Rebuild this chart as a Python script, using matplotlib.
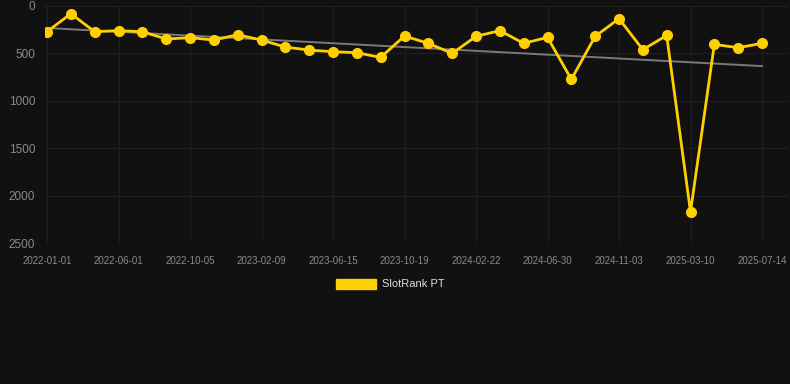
import matplotlib
matplotlib.use("Agg")
import matplotlib.pyplot as plt
from matplotlib.patches import Patch
import numpy as np

plt.rcParams['font.family'] = ['Liberation Sans', 'DejaVu Sans']

tick_labels = ["2022-01-01", "2022-06-01", "2022-10-05", "2023-02-09", "2023-06-15",
               "2023-10-19", "2024-02-22", "2024-06-30", "2024-11-03", "2025-03-10",
               "2025-07-14"]
ranks = [271, 81, 271, 260, 271, 348, 334, 359, 303, 359,
         433, 465, 482, 493, 542, 317, 394, 500, 320, 260,
         394, 331, 774, 320, 134, 461, 310, 2172, 405, 440, 394]
trend_ends = [232, 634]
series_name = "SlotRank PT"

BG = "#111111"
fig = plt.figure(figsize=(7.9, 3.84), dpi=100, facecolor=BG)
W, H = 790, 384
left, right, top, bottom = 45, 788, 6, 243
ax = fig.add_axes([left / W, 1 - bottom / H, (right - left) / W, (bottom - top) / H])
ax.set_facecolor(BG)

x = np.arange(len(ranks))
step = 3
px_per = (762 - 47) / (len(ranks) - 1)
ax.set_xlim(-(47 - left) / px_per, (len(ranks) - 1) + (right - 762) / px_per)
ax.set_ylim(2500, 0)

ax.plot([x[0], x[-1]], trend_ends, color="#7a7a7a", lw=1.4, zorder=2)
ax.plot(x, ranks, color="#FFD000", lw=2.0, marker="o", markersize=7,
        markerfacecolor="#FFD000", markeredgecolor="#FFD000", zorder=3)

ax.set_xticks(x[::step])
ax.set_xticklabels(tick_labels)
ax.set_yticks([0, 500, 1000, 1500, 2000, 2500])
ax.grid(True, color="#1f1f1f", lw=0.8)
ax.tick_params(axis="x", colors="#8a8a8a", labelsize=7, length=0, pad=9)
ax.tick_params(axis="y", colors="#8a8a8a", labelsize=8.5, length=0, pad=7)
for s in ax.spines.values():
    s.set_visible(False)
ax.axhline(2500, color="#2c2c2c", lw=0.8)

leg = fig.legend(handles=[Patch(facecolor="#FFD000", edgecolor="#FFD000", label=series_name)],
                 loc="center", bbox_to_anchor=(0.494, 1 - 284 / H), frameon=False,
                 fontsize=8, handlelength=3.6, handleheight=1.0, handletextpad=0.6)
for t in leg.get_texts():
    t.set_color("#dddddd")

fig.savefig("out.png", dpi=100, facecolor=BG)
